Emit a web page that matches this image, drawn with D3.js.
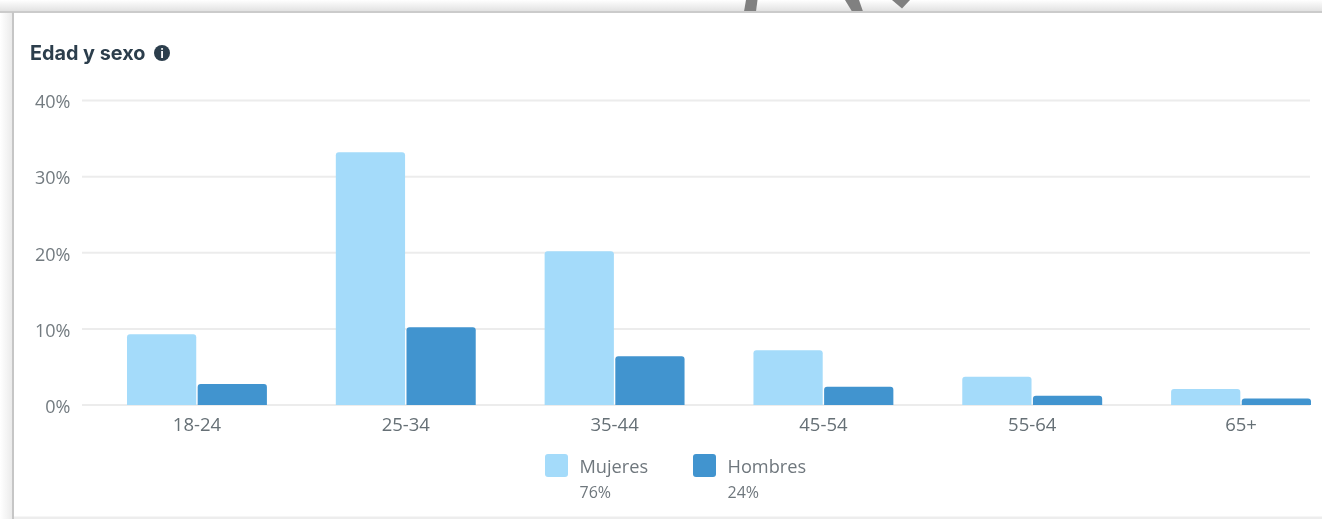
<!DOCTYPE html>
<html><head><meta charset="utf-8">
<script src="https://cdn.jsdelivr.net/npm/d3@7"></script>
<style>html,body{margin:0;padding:0;background:#fff;overflow:hidden}svg{display:block;filter:blur(0.45px)}</style>
</head><body><svg id="c" width="1322" height="519"></svg>
<script>
const categories = ["18-24","25-34","35-44","45-54","55-64","65+"];
const mujeres = [9.3,33.2,20.2,7.2,3.7,2.1];
const hombres = [2.75,10.2,6.4,2.4,1.2,0.85];
const yTicks = [0,10,20,30,40];
const legendItems = [["Mujeres","76%"],["Hombres","24%"]];
const colors = {Mujeres:"#a4dbfa",Hombres:"#4194cf"};
const svg = d3.select("#c");
const font = "'Open Sans',sans-serif";
const defs = svg.append("defs");
const g1 = defs.append("linearGradient").attr("id","top").attr("x1",0).attr("x2",0).attr("y1",0).attr("y2",1);
g1.append("stop").attr("offset",0).attr("stop-color","#ffffff");
g1.append("stop").attr("offset",1).attr("stop-color","#e2e2e2");
const g2 = defs.append("linearGradient").attr("id","left").attr("x1",0).attr("x2",1).attr("y1",0).attr("y2",0);
g2.append("stop").attr("offset",0).attr("stop-color","#ffffff");
g2.append("stop").attr("offset",1).attr("stop-color","#ebebeb");
svg.append("rect").attr("width",1322).attr("height",11).attr("fill","url(#top)");
svg.append("rect").attr("x",0).attr("y",11).attr("width",12).attr("height",508).attr("fill","url(#left)");
// decoration fragments above the card
svg.append("g").attr("fill","#808080").selectAll("path").data([
 "M746 0L757.5 0L756 11.5L744 11.5Z",
 "M845 0L859 0L863 11.5L852 11.5Z",
 "M892 0L910 0L902 8.5Z"]).join("path").attr("d",d=>d);
svg.append("rect").attr("x",0).attr("y",11).attr("width",1322).attr("height",2).attr("fill","#cbcbcb");
svg.append("rect").attr("x",12).attr("y",12).attr("width",2).attr("height",507).attr("fill","#c6c6c6");
svg.append("rect").attr("x",14).attr("y",516.5).attr("width",1308).attr("height",2.5).attr("fill","#ededed");

const y = d3.scaleLinear().domain([0,40]).range([405,100.5]);
const x = d3.scaleBand().domain(categories).range([127,1311]).paddingInner(0.33).paddingOuter(0);
const sub = d3.scaleBand().domain(["Mujeres","Hombres"]).range([0,x.bandwidth()]).paddingInner(0.02);

const grid = svg.append("g");
grid.selectAll("line").data(yTicks).join("line")
 .attr("x1",82).attr("x2",1310).attr("y1",d=>y(d)).attr("y2",d=>y(d))
 .attr("stroke","#ececec").attr("stroke-width",2);
const yAxis = d3.axisLeft(y).tickValues(yTicks).tickFormat(d=>d+"%").tickSize(0).tickPadding(0);
const ya = svg.append("g").attr("transform","translate(70.5,1.5)").call(yAxis);
ya.select(".domain").remove();
ya.selectAll("text").attr("font-family",font).attr("font-size",18).attr("fill","#737b80");
const xAxis = d3.axisBottom(x).tickSize(0).tickPadding(0);
const xa = svg.append("g").attr("transform","translate(0,418)").call(xAxis);
xa.select(".domain").remove();
xa.selectAll("text").attr("font-family",font).attr("font-size",18.5).attr("fill","#667076");

function bar(xp,w,top,base,r){const h=base-top;r=Math.min(r,h);
 return `M${xp},${base}V${top+r}Q${xp},${top} ${xp+r},${top}H${xp+w-r}Q${xp+w},${top} ${xp+w},${top+r}V${base}Z`;}
[["Mujeres",mujeres],["Hombres",hombres]].forEach(([name,vals])=>{
 svg.append("g").selectAll("path").data(vals).join("path")
  .attr("d",(d,i)=>bar(x(categories[i])+sub(name),sub.bandwidth(),y(d),y(0),3))
  .attr("fill",colors[name]);
});
svg.append("text").attr("x",30).attr("y",59.5).text("Edad y sexo")
 .attr("font-family","Inter,sans-serif").attr("font-weight",700).attr("font-size",19.8).attr("fill","#2c3e4c");
svg.append("circle").attr("cx",162).attr("cy",53).attr("r",8).attr("fill","#2c3e4c");
svg.append("text").attr("x",162).attr("y",57.5).attr("text-anchor","middle").text("i")
 .attr("font-family",font).attr("font-weight",700).attr("font-size",12).attr("fill","#fff");

const lg = svg.append("g").selectAll("g").data(legendItems).join("g")
 .attr("transform",(d,i)=>`translate(${d3.scalePoint().domain([0,1]).range([545,693])(i)},454)`);
lg.append("rect").attr("width",23).attr("height",23).attr("rx",3).attr("fill",d=>colors[d[0]]);
lg.append("text").attr("x",34.5).attr("y",18.5).text(d=>d[0]).attr("font-family",font).attr("font-size",18.2).attr("fill","#6f777d");
lg.append("text").attr("x",34.5).attr("y",44).text(d=>d[1]).attr("font-family",font).attr("font-size",16).attr("fill","#6f777d");
</script></body></html>
